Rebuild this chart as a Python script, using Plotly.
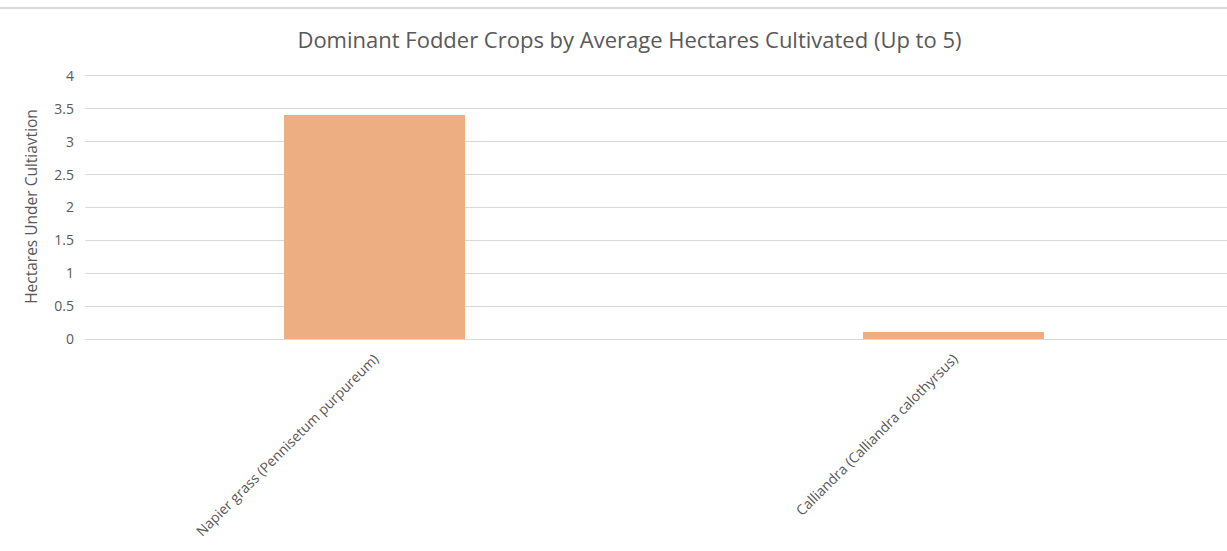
import plotly.graph_objects as go

categories = ["Napier grass (Pennisetum purpureum)", "Calliandra (Calliandra calothyrsus)"]
hectares = [3.4, 0.1]
y_ticks = [0, 0.5, 1, 1.5, 2, 2.5, 3, 3.5, 4]

fig = go.Figure()
fig.add_trace(go.Bar(
    x=categories, y=hectares, width=0.3126,
    marker=dict(color="#EDAE82", line=dict(width=0)),
    hoverinfo="x+y",
))

fig.update_layout(
    width=1227, height=551,
    margin=dict(l=85, r=0, t=74, b=212),
    paper_bgcolor="white", plot_bgcolor="white",
    font=dict(family="Open Sans, Lato, sans-serif", color="#595959", size=14),
    title=dict(
        text="Dominant Fodder Crops by Average Hectares Cultivated (Up to 5)",
        x=0.513, xanchor="center", y=0.927, yanchor="middle",
        font=dict(size=22, color="#595959"),
    ),
    showlegend=False,
    bargap=0,
    xaxis=dict(
        range=[-0.5, 1.472], tickangle=-45, showgrid=False, zeroline=False,
        showline=False, ticks="", ticklabelstandoff=8,
        tickfont=dict(size=14, color="#595959"),
    ),
    yaxis=dict(
        range=[0, 4.03], tickvals=y_ticks, ticktext=[f"{v:g}" for v in y_ticks],
        showgrid=True, gridcolor="#D9D9D9", gridwidth=1,
        zeroline=True, zerolinecolor="#D9D9D9", zerolinewidth=1,
        ticks="", ticklabelstandoff=10,
        title=dict(text="Hectares Under Cultiavtion", font=dict(size=15.5, color="#595959"), standoff=12),
        tickfont=dict(size=14, color="#595959"),
    ),
    shapes=[
        dict(type="line", xref="paper", yref="paper",
             x0=-85/1142, x1=1, y0=(551-8-212)/265, y1=(551-8-212)/265,
             line=dict(color="#D9D9D9", width=2)),
    ],
)

fig.write_html("out.html")
